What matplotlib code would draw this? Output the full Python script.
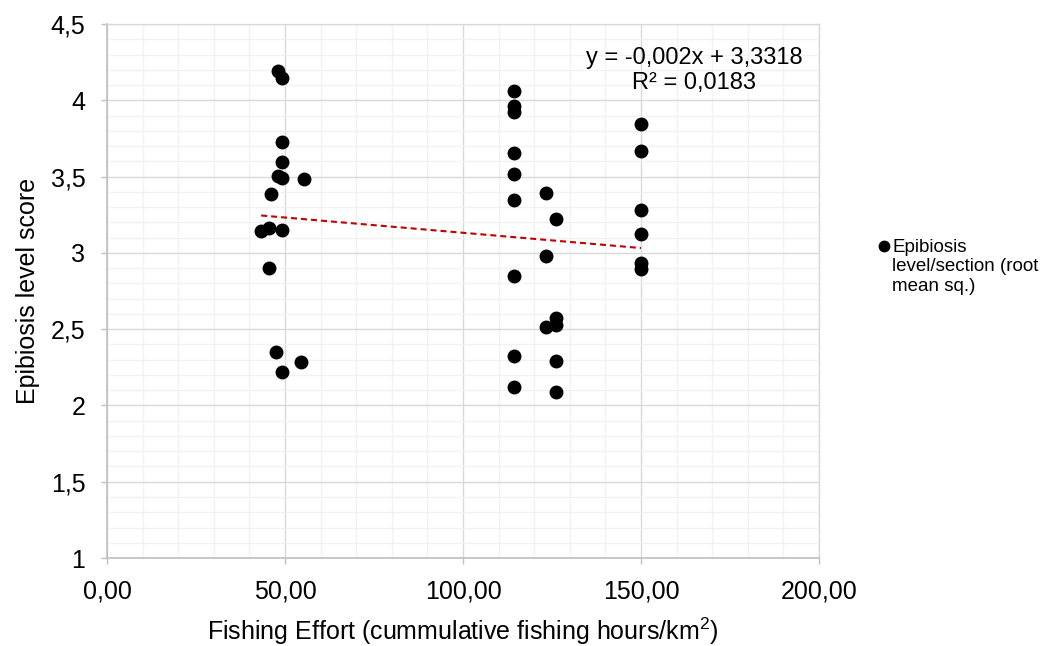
import numpy as np
import matplotlib.pyplot as plt
from matplotlib.lines import Line2D
from matplotlib.ticker import MultipleLocator, FuncFormatter

plt.rcParams['font.family'] = ['Liberation Sans', 'DejaVu Sans']
plt.rcParams['mathtext.fontset'] = 'custom'
plt.rcParams['mathtext.rm'] = 'Liberation Sans'
plt.rcParams['mathtext.it'] = 'Liberation Sans'

# fishing effort (hours/km2) per section and epibiosis score (root mean sq.)
effort = [48.1, 49.1, 49.1, 49.1, 48.1, 49.1, 55.3, 46.1, 43.3, 45.5, 49.1, 45.4,
          47.4, 54.5, 49.1,
          114.3, 114.3, 114.3, 114.3, 114.3, 114.3, 114.3, 114.3, 114.3,
          123.2, 123.2, 123.2,
          126.1, 126.1, 126.1, 126.1, 126.1,
          150.0, 150.0, 150.0, 150.0, 150.0, 150.0]
score = [4.19, 4.144, 3.729, 3.594, 3.506, 3.489, 3.484, 3.384, 3.146, 3.165, 3.150, 2.903,
         2.349, 2.283, 2.218,
         4.061, 3.963, 3.921, 3.653, 3.515, 3.347, 2.849, 2.324, 2.123,
         3.390, 2.978, 2.512,
         3.220, 2.571, 2.528, 2.294, 2.087,
         3.843, 3.670, 3.281, 3.122, 2.936, 2.893]

# linear trendline as reported on the chart
slope = -0.002
intercept = 3.3318
r2 = 0.0183

fig = plt.figure(figsize=(10.46, 6.46), dpi=100)
ax = fig.add_axes([0.1023, 0.1362, 0.6807, 0.8266])

ax.set_xlim(0, 200)
ax.set_ylim(1, 4.5)
ax.xaxis.set_major_locator(MultipleLocator(50))
ax.xaxis.set_minor_locator(MultipleLocator(10))
ax.yaxis.set_major_locator(MultipleLocator(0.5))
ax.yaxis.set_minor_locator(MultipleLocator(0.1))
ax.xaxis.set_major_formatter(FuncFormatter(lambda v, p: f'{v:.2f}'.replace('.', ',')))
ax.yaxis.set_major_formatter(FuncFormatter(lambda v, p: f'{v:g}'.replace('.', ',')))

ax.grid(which='major', color='#d9d9d9', linewidth=1.0, zorder=0)
ax.grid(which='minor', color='#f2f2f2', linewidth=1.0, zorder=0)
ax.set_axisbelow(True)

for side in ['left', 'bottom']:
    ax.spines[side].set_color('#bfbfbf')
    ax.spines[side].set_linewidth(1.2)
for side in ['top', 'right']:
    ax.spines[side].set_color('#d9d9d9')
    ax.spines[side].set_linewidth(1.0)

ax.tick_params(which='major', length=4.5, width=1.0, color='#bfbfbf',
               labelsize=18, pad=11)
ax.tick_params(which='minor', length=0)

ax.plot(effort, score, 'o', color='black', markersize=9, linestyle='none', zorder=3)

xs = np.array([min(effort), max(effort)])
ax.plot(xs, slope * xs + intercept, color='#c00000', linewidth=1.5,
        dashes=(2.9, 1.9), zorder=4)

fig.text(0.6635, 0.891, f'y = {slope:.3f}x + {intercept:.4f}'.replace('.', ',')
         + '\n' + f'R² = {r2:.4f}'.replace('.', ','),
         ha='center', va='center', multialignment='center', fontsize=17,
         linespacing=1.15)

ax.set_xlabel('Fishing Effort (cummulative fishing hours/km$^{2}$)', fontsize=18,
              labelpad=9)
ax.set_ylabel('Epibiosis level score', fontsize=18, labelpad=8)

# legend entry: marker beside the first line of a wrapped label
fig.add_artist(Line2D([884 / 1046], [1 - 246 / 646], marker='o', color='black',
                      markersize=7.5, linestyle='none', transform=fig.transFigure))
fig.text(892 / 1046, 1 - 239 / 646, 'Epibiosis\nlevel/section (root\nmean sq.)',
         ha='left', va='top', fontsize=13.5, linespacing=1.18)

fig.savefig('out.png', dpi=100)
